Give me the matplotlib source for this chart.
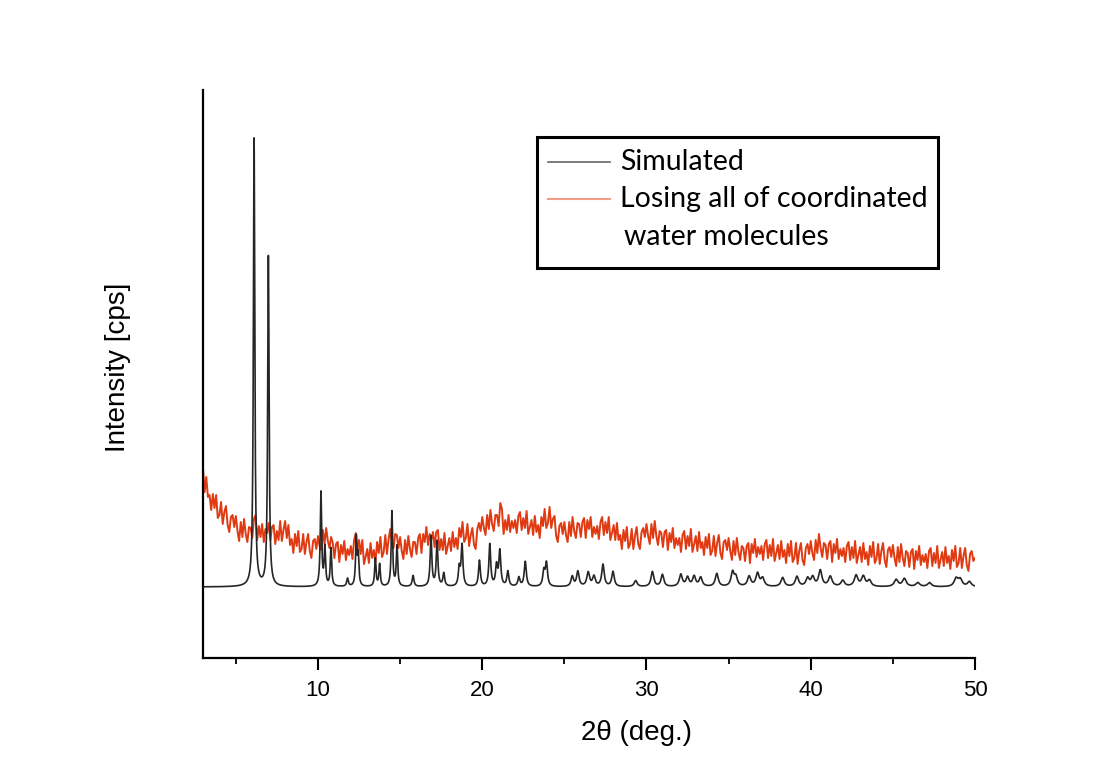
import numpy as np
import matplotlib
matplotlib.use("Agg")
import matplotlib.pyplot as plt
from matplotlib.patches import Rectangle
from matplotlib.lines import Line2D

# ---------------- data ----------------
# Simulated pattern: peak positions (2theta, deg), heights above baseline, widths (FWHM, deg)
sim_peak_pos = [6.11, 6.98, 10.18, 10.42, 10.79, 11.8, 12.33, 12.45, 13.49, 13.75,
                14.5, 14.81, 15.79, 16.88, 17.25, 17.66, 18.6, 18.77, 19.83, 20.46,
                20.87, 21.07, 21.56, 22.23, 22.62, 23.75, 23.91, 25.48, 25.82, 26.45,
                26.8, 27.35, 27.96, 29.34, 30.36, 30.97, 32.09, 32.5, 32.9, 33.3,
                34.28, 35.24, 35.44, 36.25, 36.76, 37.07, 38.29, 39.16, 39.81, 40.12,
                40.58, 41.19, 41.95, 42.76, 43.2, 43.57, 45.2, 45.7, 46.52, 47.23,
                48.85, 49.1, 49.66]
sim_peak_height = [448, 330, 94, 38, 38, 8, 48, 30, 28, 22,
                   75, 40, 11, 50, 45, 13, 18, 41, 26, 42,
                   20, 35, 15, 9, 25, 15, 23, 10, 15, 14,
                   10, 22, 15, 6, 15, 12, 12, 9, 10, 9,
                   13, 14, 9, 10, 13, 8, 9, 10, 8, 9,
                   16, 10, 6, 11, 10, 6, 7, 8, 4, 4,
                   8, 7, 5]
sim_peak_fwhm = [0.10, 0.10, 0.10, 0.10, 0.10, 0.12, 0.10, 0.10, 0.10, 0.10,
                 0.10, 0.10, 0.13, 0.12, 0.12, 0.13, 0.13, 0.13, 0.13, 0.13,
                 0.14, 0.14, 0.14, 0.15, 0.15, 0.15, 0.15, 0.18, 0.18, 0.20,
                 0.20, 0.18, 0.18, 0.22, 0.20, 0.20, 0.22, 0.22, 0.22, 0.22,
                 0.22, 0.22, 0.22, 0.24, 0.24, 0.24, 0.24, 0.24, 0.24, 0.24,
                 0.24, 0.26, 0.26, 0.26, 0.26, 0.26, 0.28, 0.28, 0.28, 0.28,
                 0.28, 0.28, 0.28]
sim_baseline = 71

# Measured pattern (losing coordinated water), read every 0.1 deg from 3.0 to 50.0
exp_start, exp_step = 3.0, 0.1
exp_intensity = [
    190, 166, 181, 161, 163, 148, 164, 150, 163, 140,   # 3
    143, 156, 134, 146, 152, 133, 126, 141, 143, 131,   # 4
    142, 127, 117, 136, 121, 139, 124, 116, 131, 130,   # 5
    120, 139, 143, 118, 132, 121, 134, 116, 129, 125,   # 6
    135, 118, 131, 133, 114, 127, 118, 137, 117, 128,   # 7
    137, 120, 133, 113, 119, 105, 124, 112, 127, 106,   # 8
    109, 124, 104, 116, 124, 107, 100, 117, 119, 109,   # 9
    122, 112, 108, 128, 114, 130, 117, 110, 121, 115,   # 10
    100, 114, 116, 96, 113, 104, 117, 98, 109, 103,     # 11
    112, 99, 118, 125, 108, 118, 104, 118, 94, 101,     # 12
    109, 95, 115, 100, 108, 96, 116, 105, 121, 101,     # 13
    106, 123, 104, 119, 129, 115, 110, 124, 123, 110,   # 14
    121, 107, 99, 118, 104, 122, 109, 101, 116, 116,    # 15
    104, 120, 124, 105, 124, 116, 131, 113, 124, 118,   # 16
    126, 111, 126, 128, 108, 119, 108, 125, 104, 112,   # 17
    120, 107, 126, 111, 120, 109, 130, 121, 136, 116,   # 18
    120, 134, 112, 123, 130, 113, 109, 129, 135, 127,   # 19
    141, 130, 123, 143, 129, 148, 134, 127, 143, 143,   # 20
    132, 155, 149, 124, 138, 128, 143, 126, 137, 130,   # 21
    138, 125, 142, 146, 128, 140, 130, 147, 124, 131,   # 22
    138, 123, 142, 126, 133, 120, 141, 132, 149, 130,   # 23
    135, 151, 130, 139, 142, 122, 116, 132, 135, 124,   # 24
    136, 123, 116, 136, 122, 141, 127, 120, 135, 134,   # 25
    121, 136, 140, 120, 138, 129, 141, 121, 131, 124,   # 26
    132, 119, 136, 141, 123, 136, 125, 141, 118, 125,   # 27
    133, 118, 135, 118, 123, 109, 128, 117, 131, 110,   # 28
    114, 129, 109, 122, 131, 114, 109, 126, 130, 121,   # 29
    134, 122, 114, 134, 120, 137, 122, 113, 127, 125,   # 30
    111, 126, 128, 108, 125, 116, 130, 110, 120, 113,   # 31
    120, 106, 123, 127, 109, 122, 112, 129, 106, 114,   # 32
    122, 107, 126, 110, 116, 103, 121, 110, 124, 103,   # 33
    107, 122, 102, 115, 123, 105, 99, 116, 118, 108,    # 34
    120, 107, 98, 117, 103, 120, 106, 98, 112, 110,     # 35
    97, 112, 115, 95, 114, 105, 119, 101, 111, 104,     # 36
    112, 98, 114, 118, 100, 113, 102, 119, 97, 105,     # 37
    113, 99, 117, 101, 108, 95, 114, 102, 117, 96,      # 38
    100, 115, 94, 107, 115, 98, 93, 110, 114, 104,      # 39
    117, 105, 98, 118, 105, 124, 110, 101, 115, 113,    # 40
    99, 114, 117, 96, 114, 105, 119, 99, 109, 102,      # 41
    110, 96, 112, 116, 98, 111, 100, 117, 95, 103,      # 42
    111, 96, 115, 99, 106, 93, 112, 101, 116, 95,       # 43
    99, 114, 94, 107, 115, 98, 91, 108, 111, 101,       # 44
    113, 100, 92, 111, 96, 114, 100, 92, 107, 105,      # 45
    91, 106, 109, 89, 107, 98, 112, 93, 103, 96,        # 46
    104, 90, 107, 110, 92, 105, 95, 112, 90, 98,        # 47
    106, 92, 111, 95, 102, 89, 108, 97, 112, 91,        # 48
    95, 110, 90, 102, 110, 93, 87, 104, 107, 97,        # 49
    100,                                                # 50
]

x_ticks = [10, 20, 30, 40, 50]
x_minor = [5, 15, 25, 35, 45]
labels = ["Simulated", "Losing all of coordinated", "water molecules"]

# ---------------- figure ----------------
fig = plt.figure(figsize=(11.06, 7.69), dpi=100)
fig.patch.set_facecolor("white")
ax = fig.add_axes([203/1106, 1-658/769, (975-203)/1106, (658-90)/769])

# simulated profile from peak list (Lorentzian line shapes)
x_sim = np.arange(3.0, 50.0001, 0.01)
y_sim = np.full_like(x_sim, sim_baseline, dtype=float)
for p, h, w in zip(sim_peak_pos, sim_peak_height, sim_peak_fwhm):
    y_sim += h / (1 + (2 * (x_sim - p) / w) ** 2)

x_exp = exp_start + exp_step * np.arange(len(exp_intensity))

sim_color = "#262626"
exp_color = "#e03a12"
ax.plot(x_exp, exp_intensity, color=exp_color, lw=1.4, zorder=2)
ax.plot(x_sim, y_sim, color=sim_color, lw=1.2, zorder=3)

ax.set_xlim(3, 50)
ax.set_ylim(0, 568)

for s in ["top", "right"]:
    ax.spines[s].set_visible(False)
for s in ["left", "bottom"]:
    ax.spines[s].set_linewidth(1.6)
ax.set_yticks([])
ax.set_xticks(x_ticks)
ax.set_xticks(x_minor, minor=True)
ax.tick_params(axis="x", which="major", direction="out", length=8.5, width=1.5,
               labelsize=16, pad=7)
ax.tick_params(axis="x", which="minor", direction="out", length=4, width=1.3)
for lbl in ax.get_xticklabels():
    lbl.set_fontfamily("Liberation Sans")

ax.set_xlabel("2\u03b8 (deg.)", fontsize=20, family="Liberation Sans", va="center")
ax.xaxis.set_label_coords(0.562, -0.132)
ax.set_ylabel("Intensity [cps]", fontsize=20, family="Liberation Sans", va="center")
ax.yaxis.set_label_coords(-0.110, 0.512)

# legend drawn in axes coordinates
box = Rectangle((0.4326, 0.687), 0.952 - 0.4326, 0.917 - 0.687, transform=ax.transAxes,
                facecolor="white", edgecolor="black", lw=2.2, zorder=5, clip_on=False)
ax.add_patch(box)
ax.add_line(Line2D([0.4469, 0.5272], [0.873, 0.873], transform=ax.transAxes,
                   color=sim_color, alpha=0.7, lw=1.2, zorder=6))
ax.add_line(Line2D([0.4469, 0.5272], [0.808, 0.808], transform=ax.transAxes,
                   color=exp_color, alpha=0.5, lw=1.5, zorder=6))
leg_font = dict(fontsize=20.5, family="Lato", va="center", ha="left", zorder=6,
                transform=ax.transAxes)
ax.text(0.540, 0.873, labels[0], **leg_font)
ax.text(0.540, 0.808, labels[1], **leg_font)
ax.text(0.5453, 0.741, labels[2], **leg_font)

fig.savefig("out.png", dpi=100)
